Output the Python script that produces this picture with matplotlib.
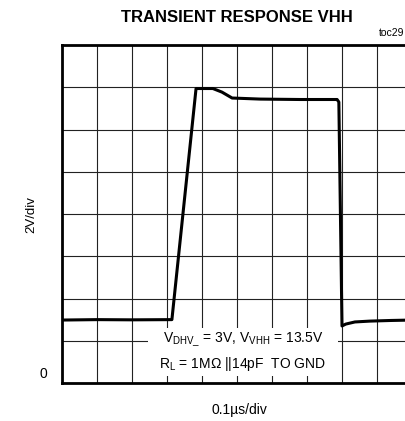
import matplotlib
matplotlib.use("Agg")
import matplotlib.pyplot as plt
from matplotlib.patches import Rectangle

plt.rcParams["font.family"] = ["Liberation Sans", "DejaVu Sans"]
plt.rcParams["mathtext.fontset"] = "custom"
plt.rcParams["mathtext.rm"] = "Liberation Sans"

# trace: time in us, output in V (2V/div, 0.1us/div)
t_us = [0.0, 0.10, 0.20, 0.314, 0.383, 0.431, 0.457, 0.486, 0.566, 0.680, 0.786,
        0.791, 0.800, 0.811, 0.837, 0.880, 0.940, 1.0]
v_out = [2.98, 3.0, 2.99, 3.0, 13.94, 13.94, 13.77, 13.49, 13.44, 13.42, 13.42,
         13.30, 2.70, 2.79, 2.89, 2.93, 2.96, 2.98]

TITLE = "TRANSIENT RESPONSE VHH"
NOTE1 = r"V$_{\mathrm{DHV\_}}$ = 3V, V$_{\mathrm{VHH}}$ = 13.5V"
NOTE2 = r"R$_{\mathrm{L}}$ = 1MΩ ||14pF  TO GND"

W, H = 406, 421
fig = plt.figure(figsize=(W / 100, H / 100), dpi=100)
# plot box runs past the right edge of the image, as in the original crop
ax = fig.add_axes([62 / W, 38 / H, 350 / W, 338 / H])
ax.set_xlim(0, 1.0)
ax.set_ylim(0, 16)
ax.set_xticks([i * 0.1 for i in range(11)])
ax.set_yticks(range(0, 17, 2))
ax.tick_params(length=0, labelbottom=False, labelleft=False)
ax.grid(True, color="#222222", lw=0.8)
for s in ax.spines.values():
    s.set_linewidth(2.0)

ax.add_patch(Rectangle((0.246, 0.35), 0.789 - 0.246, 2.6 - 0.35,
                       facecolor="white", edgecolor="none", zorder=2.5))
ax.plot(t_us, v_out, color="black", lw=2.2, zorder=3)

ax.text(0.517, 2.04, NOTE1, ha="center", va="center", fontsize=10, zorder=4)
ax.text(0.517, 0.90, NOTE2, ha="center", va="center", fontsize=10, zorder=4)

fig.text(237 / W, 1 - 17 / H, TITLE, ha="center", va="center", fontsize=12,
         fontweight="bold")
fig.text(404 / W, 1 - 33 / H, "toc29", ha="right", va="center", fontsize=7.5)
fig.text(31 / W, 1 - 215 / H, "2V/div", ha="center", va="center", rotation=90,
         fontsize=9.5)
fig.text(43 / W, 1 - 374 / H, "0", ha="center", va="center", fontsize=10)
fig.text(239 / W, 1 - 410 / H, "0.1µs/div", ha="center", va="center", fontsize=10)

fig.savefig("out.png", dpi=100)
